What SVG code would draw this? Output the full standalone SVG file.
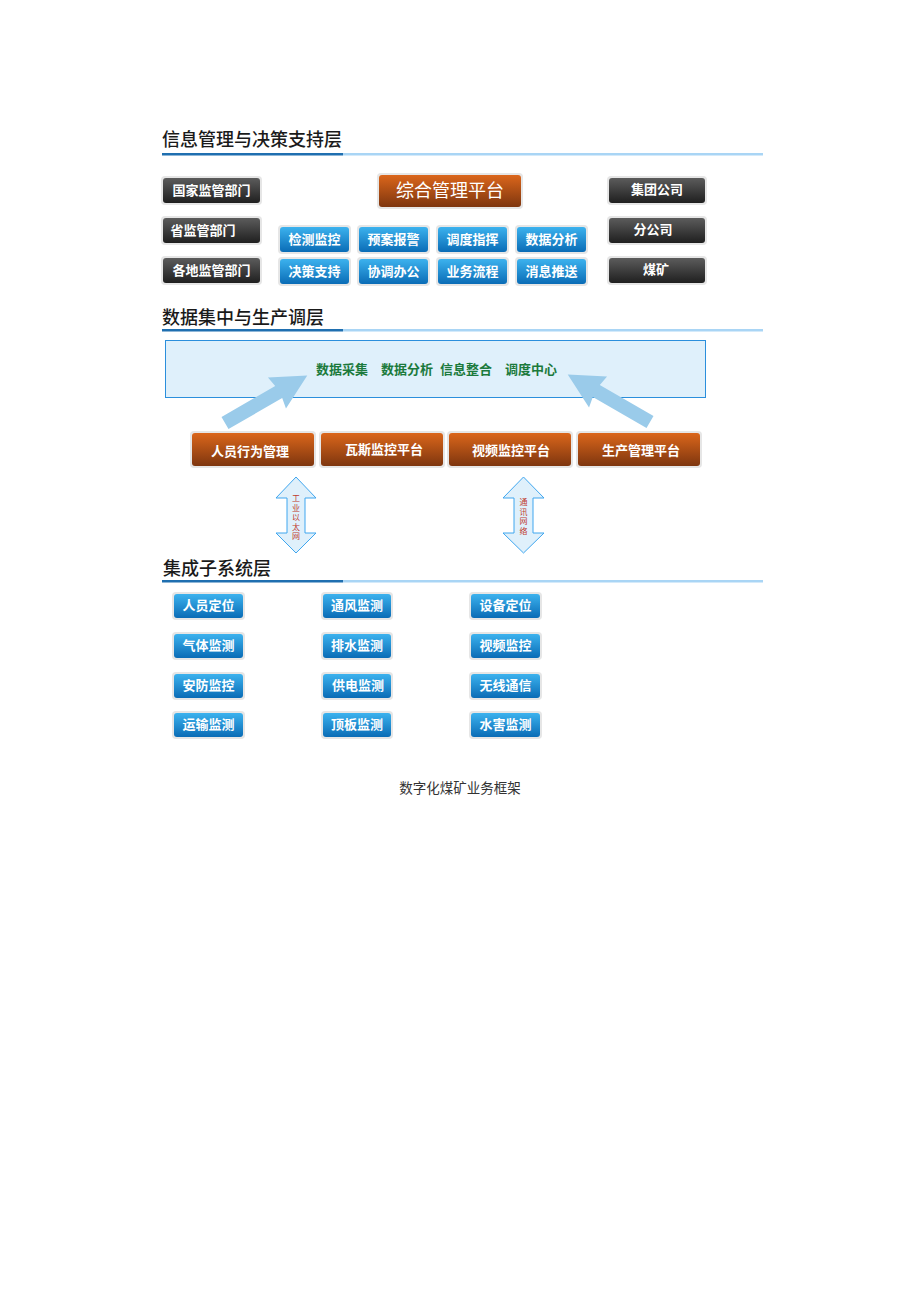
<svg xmlns="http://www.w3.org/2000/svg" width="920" height="1302" viewBox="0 0 920 1302">
<defs>
<linearGradient id="gDark" x1="0" y1="0" x2="0" y2="1"><stop offset="0" stop-color="#5c5c5c"/><stop offset="1" stop-color="#1f1f1f"/></linearGradient>
<linearGradient id="gBlue" x1="0" y1="0" x2="0" y2="1"><stop offset="0" stop-color="#3cb2ee"/><stop offset="1" stop-color="#0a6cb6"/></linearGradient>
<linearGradient id="gOrange" x1="0" y1="0" x2="0" y2="1"><stop offset="0" stop-color="#db661b"/><stop offset="1" stop-color="#7e360f"/></linearGradient>
<style>
.halo{fill:#e6e6e6;}
.dark{fill:url(#gDark);}
.blue{fill:url(#gBlue);}
.orange{fill:url(#gOrange);}
.bt{font-family:"Noto Sans CJK SC",sans-serif;font-size:13px;font-weight:bold;fill:#ffffff;text-anchor:middle;}
.title{font-family:"Noto Sans CJK SC",sans-serif;font-size:18px;font-weight:500;fill:#1a1a1a;}
.green{font-family:"Noto Sans CJK SC",sans-serif;font-size:13px;font-weight:bold;fill:#1b7a3c;}
.vt{font-family:"Noto Sans CJK SC",sans-serif;font-size:8px;fill:#c0392b;text-anchor:middle;}
.big{font-family:"Noto Sans CJK SC",sans-serif;font-size:18px;fill:#ffffff;text-anchor:middle;}
.cap{font-family:"Noto Sans CJK SC",sans-serif;font-size:13.5px;fill:#333333;text-anchor:middle;}
.arrow{fill:#9acbea;}
.darr{fill:#dff0fb;stroke:#3fa6ef;stroke-width:1;}
</style>
</defs>

<g id="section1-title">
<text class="title" x="162" y="146">信息管理与决策支持层</text>
<rect x="162" y="153" width="181" height="2.5" fill="#1f6fb0"/>
<rect x="343" y="153" width="420" height="2.5" fill="#a9d5f5"/>
</g>

<g id="n-guojia"><rect class="halo" x="161" y="176" width="101" height="29" rx="4"/><rect class="dark" x="163" y="178" width="97" height="25" rx="3"/><text class="bt" x="211.5" y="195">国家监管部门</text></g>
<g id="n-sheng"><rect class="halo" x="161" y="216" width="101" height="29" rx="4"/><rect class="dark" x="163" y="218" width="97" height="25" rx="3"/><text class="bt" x="203" y="235">省监管部门</text></g>
<g id="n-gedi"><rect class="halo" x="161" y="256" width="101" height="29" rx="4"/><rect class="dark" x="163" y="258" width="97" height="25" rx="3"/><text class="bt" x="211.5" y="275">各地监管部门</text></g>

<g id="n-zonghe"><rect class="halo" x="377" y="173" width="146" height="36" rx="4"/><rect class="orange" x="379" y="175" width="142" height="32" rx="3"/><text class="big" x="450" y="197">综合管理平台</text></g>

<g id="n-jiance"><rect class="halo" x="278" y="225" width="73" height="29" rx="4"/><rect class="blue" x="280" y="227" width="69" height="25" rx="3"/><text class="bt" x="314.5" y="244">检测监控</text></g>
<g id="n-yuan"><rect class="halo" x="357" y="225" width="73" height="29" rx="4"/><rect class="blue" x="359" y="227" width="69" height="25" rx="3"/><text class="bt" x="393.5" y="244">预案报警</text></g>
<g id="n-diaodu"><rect class="halo" x="436" y="225" width="73" height="29" rx="4"/><rect class="blue" x="438" y="227" width="69" height="25" rx="3"/><text class="bt" x="472.5" y="244">调度指挥</text></g>
<g id="n-shuju"><rect class="halo" x="515" y="225" width="73" height="29" rx="4"/><rect class="blue" x="517" y="227" width="69" height="25" rx="3"/><text class="bt" x="551.5" y="244">数据分析</text></g>
<g id="n-juece"><rect class="halo" x="278" y="257" width="73" height="29" rx="4"/><rect class="blue" x="280" y="259" width="69" height="25" rx="3"/><text class="bt" x="314.5" y="276">决策支持</text></g>
<g id="n-xietiao"><rect class="halo" x="357" y="257" width="73" height="29" rx="4"/><rect class="blue" x="359" y="259" width="69" height="25" rx="3"/><text class="bt" x="393.5" y="276">协调办公</text></g>
<g id="n-yewu"><rect class="halo" x="436" y="257" width="73" height="29" rx="4"/><rect class="blue" x="438" y="259" width="69" height="25" rx="3"/><text class="bt" x="472.5" y="276">业务流程</text></g>
<g id="n-xiaoxi"><rect class="halo" x="515" y="257" width="73" height="29" rx="4"/><rect class="blue" x="517" y="259" width="69" height="25" rx="3"/><text class="bt" x="551.5" y="276">消息推送</text></g>

<g id="n-jituan"><rect class="halo" x="607" y="176" width="100" height="29" rx="4"/><rect class="dark" x="609" y="178" width="96" height="25" rx="3"/><text class="bt" x="657" y="194">集团公司</text></g>
<g id="n-fengongsi"><rect class="halo" x="607" y="216" width="100" height="29" rx="4"/><rect class="dark" x="609" y="218" width="96" height="25" rx="3"/><text class="bt" x="653" y="234">分公司</text></g>
<g id="n-meikuang"><rect class="halo" x="607" y="256" width="100" height="29" rx="4"/><rect class="dark" x="609" y="258" width="96" height="25" rx="3"/><text class="bt" x="656" y="274">煤矿</text></g>

<g id="section2-title">
<text class="title" x="162" y="324">数据集中与生产调层</text>
<rect x="162" y="329" width="181" height="2.5" fill="#1f6fb0"/>
<rect x="343" y="329" width="420" height="2.5" fill="#a9d5f5"/>
</g>

<g id="n-center">
<rect x="165.5" y="340.5" width="540" height="57" fill="#dff0fb" stroke="#2b8fdc" stroke-width="1"/>
<text class="green" x="316" y="374">数据采集</text>
<text class="green" x="381" y="374">数据分析</text>
<text class="green" x="440" y="374">信息整合</text>
<text class="green" x="505" y="374">调度中心</text>
</g>

<g id="n-renyuan"><rect class="halo" x="190" y="431" width="126" height="37" rx="4"/><rect class="orange" x="192" y="433" width="122" height="33" rx="3"/><text class="bt" x="250" y="456">人员行为管理</text></g>
<g id="n-wasi"><rect class="halo" x="319" y="431" width="126" height="37" rx="4"/><rect class="orange" x="321" y="433" width="122" height="33" rx="3"/><text class="bt" x="384" y="454">瓦斯监控平台</text></g>
<g id="n-shipin"><rect class="halo" x="447" y="431" width="126" height="37" rx="4"/><rect class="orange" x="449" y="433" width="122" height="33" rx="3"/><text class="bt" x="511" y="455">视频监控平台</text></g>
<g id="n-shengchan"><rect class="halo" x="576" y="431" width="126" height="37" rx="4"/><rect class="orange" x="578" y="433" width="122" height="33" rx="3"/><text class="bt" x="641" y="455">生产管理平台</text></g>

<g id="connectors">
<polygon class="arrow" transform="translate(225,423) rotate(-30)" points="0,-7 62,-7 60,-18 95,0 60,18 62,7 0,7"/>
<polygon class="arrow" transform="translate(650,422) rotate(-150)" points="0,7 62,7 60,18 95,0 60,-18 62,-7 0,-7"/>
<polygon class="darr" points="296,477 316,498 305,498 305,533 316,533 296,553 276,533 287,533 287,498 276,498"/>
<text class="vt" x="296" y="501">工</text>
<text class="vt" x="296" y="510.5">业</text>
<text class="vt" x="296" y="520">以</text>
<text class="vt" x="296" y="529.5">太</text>
<text class="vt" x="296" y="539">网</text>
<polygon class="darr" points="523.5,477 544,498 533,498 533,533 544,533 523.5,553 503,533 514,533 514,498 503,498"/>
<text class="vt" x="523.5" y="505">通</text>
<text class="vt" x="523.5" y="514.5">讯</text>
<text class="vt" x="523.5" y="524">网</text>
<text class="vt" x="523.5" y="533.5">络</text>
</g>

<g id="section3-title">
<text class="title" x="163" y="575">集成子系统层</text>
<rect x="162" y="580" width="181" height="2.5" fill="#1f6fb0"/>
<rect x="343" y="580" width="420" height="2.5" fill="#a9d5f5"/>
</g>

<g id="n-renyuandingwei"><rect class="halo" x="172" y="592" width="73" height="28" rx="4"/><rect class="blue" x="174" y="594" width="69" height="24" rx="3"/><text class="bt" x="208.5" y="610">人员定位</text></g>
<g id="n-qiti"><rect class="halo" x="172" y="632" width="73" height="28" rx="4"/><rect class="blue" x="174" y="634" width="69" height="24" rx="3"/><text class="bt" x="208.5" y="650">气体监测</text></g>
<g id="n-anfang"><rect class="halo" x="172" y="672" width="73" height="28" rx="4"/><rect class="blue" x="174" y="674" width="69" height="24" rx="3"/><text class="bt" x="208.5" y="690">安防监控</text></g>
<g id="n-yunshu"><rect class="halo" x="172" y="711" width="73" height="28" rx="4"/><rect class="blue" x="174" y="713" width="69" height="24" rx="3"/><text class="bt" x="208.5" y="729">运输监测</text></g>

<g id="n-tongfeng"><rect class="halo" x="321" y="592" width="72" height="28" rx="4"/><rect class="blue" x="323" y="594" width="68" height="24" rx="3"/><text class="bt" x="357" y="610">通风监测</text></g>
<g id="n-paishui"><rect class="halo" x="321" y="632" width="72" height="28" rx="4"/><rect class="blue" x="323" y="634" width="68" height="24" rx="3"/><text class="bt" x="357" y="650">排水监测</text></g>
<g id="n-gongdian"><rect class="halo" x="321" y="672" width="72" height="28" rx="4"/><rect class="blue" x="323" y="674" width="68" height="24" rx="3"/><text class="bt" x="358" y="690">供电监测</text></g>
<g id="n-dingban"><rect class="halo" x="321" y="711" width="72" height="28" rx="4"/><rect class="blue" x="323" y="713" width="68" height="24" rx="3"/><text class="bt" x="357" y="729">顶板监测</text></g>

<g id="n-shebei"><rect class="halo" x="469" y="592" width="73" height="28" rx="4"/><rect class="blue" x="471" y="594" width="69" height="24" rx="3"/><text class="bt" x="505.5" y="610">设备定位</text></g>
<g id="n-shipinjiankong"><rect class="halo" x="469" y="632" width="73" height="28" rx="4"/><rect class="blue" x="471" y="634" width="69" height="24" rx="3"/><text class="bt" x="505.5" y="650">视频监控</text></g>
<g id="n-wuxian"><rect class="halo" x="469" y="672" width="73" height="28" rx="4"/><rect class="blue" x="471" y="674" width="69" height="24" rx="3"/><text class="bt" x="505.5" y="690">无线通信</text></g>
<g id="n-shuihai"><rect class="halo" x="469" y="711" width="73" height="28" rx="4"/><rect class="blue" x="471" y="713" width="69" height="24" rx="3"/><text class="bt" x="505.5" y="729">水害监测</text></g>

<g id="caption"><text class="cap" x="460" y="793">数字化煤矿业务框架</text></g>
</svg>
